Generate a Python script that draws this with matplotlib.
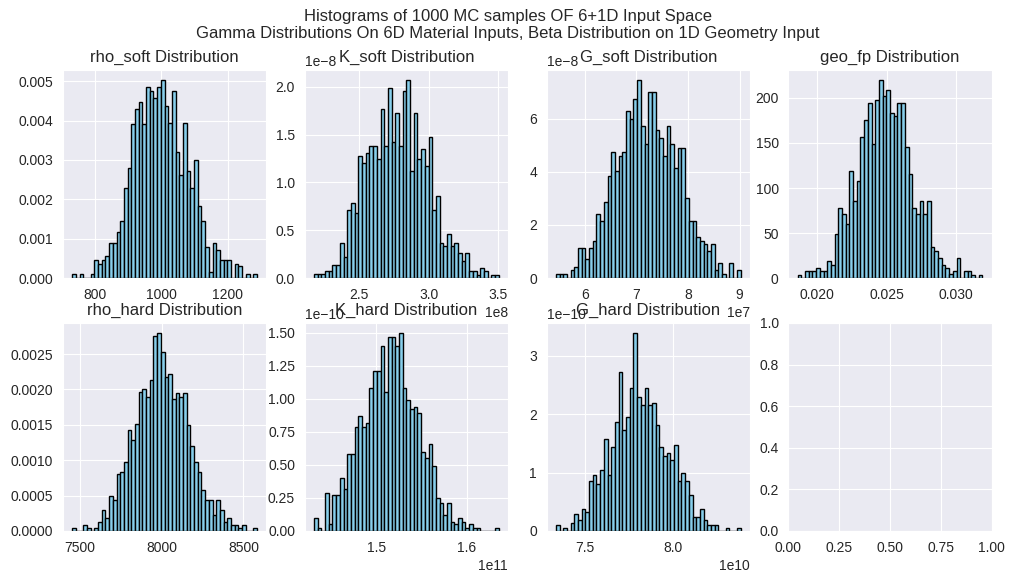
import numpy as np
import matplotlib
matplotlib.use("Agg")
import matplotlib.pyplot as plt
import seaborn as sns

sns.set_style("darkgrid")
plt.rcParams['font.family'] = ['Liberation Sans', 'DejaVu Sans']

# ---- data (bar heights in axis units x scale) ----
titles = ["rho_soft", "K_soft", "G_soft", "geo_fp", "rho_hard", "K_hard", "G_hard"]

rho_soft_range = (733, 1287)
rho_soft_heights = [0.1, 0, 0.1, 0, 0, 0.1, 0.45, 0.35, 0.45, 0.55, 0.9, 0.9, 1.18, 1.45, 2.28, 2.8,
                    3.9, 4.3, 4.46, 3.92, 4.86, 4.76, 4.57, 4.86, 5.03, 4.38, 3.93, 4.74, 3.19, 2.62,
                    3.93, 2.73, 2.28, 3.0, 1.82, 1.45, 0.8, 0.15, 0.9, 0.7, 0.45, 0.45, 0.45, 0, 0.35,
                    0.3, 0, 0.1, 0, 0.1]
rho_soft_scale = 1e-3

k_soft_range = (2.176e8, 3.502e8)
k_soft_heights = [0.04, 0.04, 0.04, 0.07, 0.07, 0.14, 0.14, 0.37, 0.22, 0.71, 0.78, 0.68, 1.28, 1.2,
                  1.31, 1.38, 1.38, 1.24, 1.77, 1.38, 1.99, 1.42, 1.72, 1.38, 1.95, 2.07, 1.12, 1.72,
                  1.24, 1.35, 1.17, 1.47, 0.71, 0.86, 0.37, 0.33, 0.46, 0.33, 0.37, 0.26, 0.18, 0.26,
                  0.07, 0.07, 0.035, 0.11, 0.07, 0, 0.035, 0.035]
k_soft_scale = 1e-8

g_soft_range = (5.44e7, 9.02e7)
g_soft_heights = [0.15, 0.15, 0.15, 0, 0.3, 0.4, 1.15, 1.15, 0.7, 1.15, 1.4, 2.4, 2.15, 2.85, 3.86,
                  4.73, 4.03, 4.58, 4.73, 6.3, 6.0, 6.75, 7.46, 5.73, 5.03, 7.01, 7.01, 5.58, 5.29,
                  4.59, 5.73, 5.03, 4.13, 4.88, 4.88, 3.0, 2.15, 2.15, 1.55, 1.4, 1.3, 1.0, 1.3, 0.3,
                  0.55, 0.15, 0, 0.55, 0, 0.3]
g_soft_scale = 1e-8

geo_fp_range = (0.01857, 0.03194)
geo_fp_heights = [3.7, 0, 7.5, 7.5, 7.5, 11, 7.5, 7.5, 19, 15, 49, 78, 71, 60, 119, 86, 108, 157,
                  176, 194, 149, 198, 220, 202, 209, 183, 180, 194, 194, 146, 116, 78, 71, 86, 71,
                  86, 34, 30, 22, 15, 11, 4, 7.5, 22, 0, 7.5, 7.5, 3.7, 0, 3.7]
geo_fp_scale = 1.0

rho_hard_range = (7453, 8582)
rho_hard_heights = [0.04, 0, 0, 0.09, 0.04, 0, 0.04, 0.13, 0.3, 0.18, 0.49, 0.44, 0.8, 0.84, 0.98,
                    1.42, 1.29, 1.51, 1.96, 2.0, 1.9, 2.13, 2.75, 2.8, 2.53, 2.17, 2.22, 1.86, 1.95,
                    1.9, 1.95, 1.5, 1.2, 0.98, 0.84, 0.58, 0.44, 0.44, 0.22, 0.44, 0.3, 0.13, 0.18,
                    0.09, 0.09, 0.04, 0.09, 0, 0, 0.04]
rho_hard_scale = 1e-3

k_hard_range = (1.4307e11, 1.6356e11)
k_hard_heights = [0.10, 0.02, 0, 0.29, 0.05, 0.27, 0.27, 0.40, 0.32, 0.58, 0.58, 0.79, 0.87, 0.79,
                  0.82, 1.08, 1.21, 1.21, 1.40, 1.05, 1.47, 1.47, 1.40, 1.50, 1.08, 0.99, 0.92,
                  0.94, 0.89, 0.60, 0.55, 0.66, 0.49, 0.25, 0.21, 0.12, 0.21, 0.07, 0.05, 0.10,
                  0.07, 0.02, 0.05, 0.02, 0.02, 0, 0, 0, 0, 0.02]
k_hard_scale = 1e-10

g_hard_range = (7.3358e10, 8.383e10)
g_hard_heights = [0.1, 0, 0.05, 0, 0.14, 0.29, 0.19, 0.38, 0.33, 0.86, 0.95, 0.81, 1.05, 1.57, 0.95,
                  1.43, 1.87, 2.72, 1.72, 1.95, 2.44, 3.39, 2.29, 2.15, 2.44, 2.15, 2.19, 1.81, 1.43,
                  1.29, 1.34, 1.21, 1.47, 0.86, 1.0, 0.86, 0.62, 0.24, 0.24, 0.38, 0.19, 0.1, 0.1,
                  0.1, 0, 0, 0.05, 0, 0, 0.05]
g_hard_scale = 1e-10

panels = [
    (rho_soft_range, rho_soft_heights, rho_soft_scale),
    (k_soft_range, k_soft_heights, k_soft_scale),
    (g_soft_range, g_soft_heights, g_soft_scale),
    (geo_fp_range, geo_fp_heights, geo_fp_scale),
    (rho_hard_range, rho_hard_heights, rho_hard_scale),
    (k_hard_range, k_hard_heights, k_hard_scale),
    (g_hard_range, g_hard_heights, g_hard_scale),
]

suptitle = ("Histograms of 1000 MC samples OF 6+1D Input Space\n"
            "Gamma Distributions On 6D Material Inputs, Beta Distribution on 1D Geometry Input")

fig, axes = plt.subplots(2, 4, figsize=(10.15, 5.79), dpi=100)
fig.subplots_adjust(left=0.062, right=0.977, top=0.879, bottom=0.083, wspace=0.19, hspace=0.216)

for ax, name, (rng, h, sc) in zip(axes.flat, titles, panels):
    edges = np.linspace(rng[0], rng[1], len(h) + 1)
    centers = 0.5 * (edges[:-1] + edges[1:])
    ax.hist(centers, bins=edges, weights=np.array(h) * sc,
            color='skyblue', edgecolor='black', linewidth=1.0)
    ax.set_title(f"{name} Distribution", fontsize=12, y=1.0)

fig.suptitle(suptitle, fontsize=12, y=0.985)
fig.savefig("out.png", dpi=100)
